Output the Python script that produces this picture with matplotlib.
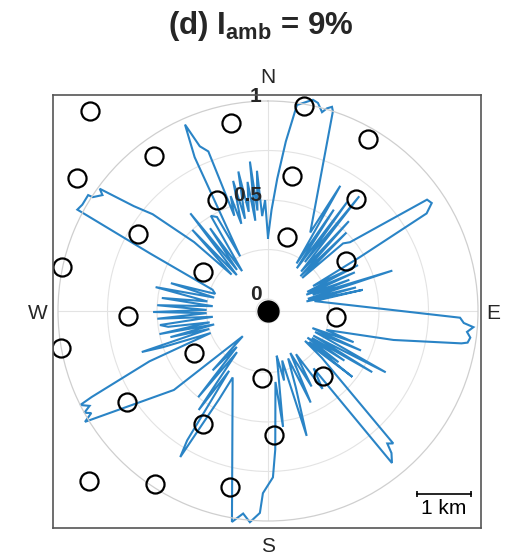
import numpy as np
import matplotlib
matplotlib.use("Agg")
import matplotlib.pyplot as plt

plt.rcParams['font.family'] = ['Liberation Sans', 'DejaVu Sans']
plt.rcParams['mathtext.fontset'] = 'custom'
plt.rcParams['mathtext.rm'] = 'Liberation Sans'
plt.rcParams['mathtext.bf'] = 'Liberation Sans:bold'

# normalised wake intensity vs wind bearing (deg, clockwise from north)
bearing_deg = [
    0, 2, 4, 6, 8, 12, 13.5, 15.2, 16.2, 17.4, 18, 28.3,
    30, 31, 33, 34, 36, 37, 38.5, 40, 42, 43, 45, 46, 48,
    50, 55, 56.6, 58.4, 59.6,
    61, 63, 64, 66, 67, 69, 70, 72, 73, 75, 76, 77.4, 78,
    92, 93.5, 94.5, 96, 97.5, 99, 99.5, 103, 108,
    110, 111, 113, 114, 117.5, 118.5, 120.4, 121.5, 123, 124, 126, 127, 128, 129,
    131, 136.6, 138, 139, 140.8, 141.5,
    145, 147, 150, 152, 155, 157, 160, 162.8, 164, 167, 169, 170, 172.6, 174,
    177, 178.3, 181.6, 182.3, 184.9, 187, 189.7, 208,
    209, 211, 212, 213, 215, 217, 219, 221, 223, 225,
    230, 238.8, 240, 241, 242, 243.4, 244, 247, 249,
    251, 252, 253, 255, 256, 258, 259, 261, 262.6, 264, 266, 268, 269.5,
    271, 273, 275, 277, 279, 282, 284, 286, 288, 291,
    296, 298, 299.8, 302.8, 303, 305, 306, 308, 310, 313, 315,
    317, 319, 321.5, 323, 325, 327, 329, 331.5, 333,
    334.5, 336, 337.5, 339.5, 340.5,
    342, 343, 345, 346, 348, 349, 351, 352, 353.1, 354, 355.5, 356.5, 358.5, 360,
]
intensity = [
    0.31, 0.45, 0.61, 0.80, 0.99, 1.03, 1.02, 0.98, 1.005, 1.02, 1.0, 0.39,
    0.67, 0.22, 0.55, 0.20, 0.62, 0.25, 0.68, 0.20, 0.55, 0.18, 0.50, 0.18, 0.45,
    0.48, 0.92, 0.93, 0.88, 0.48,
    0.20, 0.45, 0.16, 0.42, 0.15, 0.38, 0.18, 0.60, 0.15, 0.40, 0.14, 0.43, 0.18,
    0.91, 0.93, 0.98, 0.95, 0.97, 0.96, 0.93, 0.59, 0.25,
    0.40, 0.18, 0.45, 0.20, 0.61, 0.20, 0.55, 0.20, 0.40, 0.18, 0.38, 0.20, 0.48, 0.18,
    0.30, 0.86, 0.84, 0.89, 0.93, 0.31,
    0.42, 0.20, 0.38, 0.18, 0.45, 0.20, 0.35, 0.60, 0.20, 0.30, 0.17, 0.22, 0.53, 0.30,
    0.64, 0.78, 0.86, 0.96, 1.01, 0.97, 1.02, 0.32,
    0.45, 0.80, 0.71, 0.30, 0.55, 0.20, 0.50, 0.18, 0.35, 0.12,
    0.56, 1.02, 0.97, 1.0, 0.96, 1.0, 0.93, 0.59, 0.25,
    0.50, 0.61, 0.25, 0.45, 0.22, 0.50, 0.24, 0.45, 0.49, 0.22, 0.50, 0.25, 0.52,
    0.25, 0.50, 0.22, 0.48, 0.25, 0.52, 0.22, 0.45, 0.22, 0.24,
    0.60, 1.03, 1.02, 1.02, 0.995, 0.96, 0.99, 0.80, 0.70, 0.45, 0.20,
    0.50, 0.18, 0.57, 0.20, 0.45, 0.18, 0.50, 0.48, 0.25,
    0.80, 0.97, 0.84, 0.80, 0.45,
    0.55, 0.40, 0.62, 0.42, 0.66, 0.45, 0.60, 0.40, 0.70, 0.45, 0.65, 0.42, 0.50, 0.31,
]

# turbine layout (km, relative to the central turbine)
turbine_x = [-3.30, -0.69, 0.67, 1.85, -2.11, -3.54, 0.44, -0.94, 1.63,
             -2.41, 0.35, -3.81, -1.20, 1.44, -2.59, 1.26, -3.83, -1.37,
             -0.11, 1.02, -2.61, -1.20, 0.11, -3.31, -2.09, -0.70]
turbine_y = [3.70, 3.48, 3.80, 3.19, 2.87, 2.46, 2.50, 2.06, 2.07,
             1.43, 1.37, 0.81, 0.72, 0.93, -0.09, -0.11, -0.69, -0.78,
             -1.24, -1.20, -1.69, -2.09, -2.30, -3.15, -3.20, -3.26]

r_ticks = [0, 0.5, 1]
r_grid = [0, 0.25, 0.5, 0.75]

W, H = 505, 558
fig = plt.figure(figsize=(W / 100, H / 100), dpi=100)

# polar overlay: r = 0 sits on a small ring around the centre
cx, cy, rad = 268, 311, 210
pax = fig.add_axes([(cx - rad) / W, (H - cy - rad) / H, 2 * rad / W, 2 * rad / H],
                   projection='polar', zorder=1)
pax.set_theta_zero_location('N')
pax.set_theta_direction(-1)
pax.set_rlim(-0.06, 1)
pax.set_facecolor('none')
pax.set_thetagrids([0, 90, 180, 270], labels=[])
pax.set_rgrids(r_grid, labels=[])
pax.grid(True, color='#e3e3e3', lw=0.8)
pax.spines['polar'].set_color('#cfcfcf')
pax.spines['polar'].set_linewidth(0.9)
pax.tick_params(length=0)

theta = np.deg2rad(bearing_deg)
line, = pax.plot(theta, intensity, color='#2a84c6', lw=1.5, solid_joinstyle='miter')
line.set_clip_on(False)

for rv in r_ticks:
    pax.annotate(f'{rv:g}', xy=(0, rv), xytext=(-4.5, 3), textcoords='offset points',
                 ha='right', va='center', fontsize=15, fontweight='bold', color='#262626')

# map axes in km, drawn on top of the polar plot
mx0, mx1, my0, my1 = 53, 481, 95, 528
ax = fig.add_axes([mx0 / W, (H - my1) / H, (mx1 - mx0) / W, (my1 - my0) / H], zorder=2)
ax.set_facecolor('none')
ax.set_xlim((mx0 - cx) / 54, (mx1 - cx) / 54)
ax.set_ylim((cy - my1) / 54, (cy - my0) / 54)
ax.set_xticks([])
ax.set_yticks([])
for s in ax.spines.values():
    s.set_color('#555555')
    s.set_linewidth(1.2)

ax.plot(turbine_x, turbine_y, 'o', ms=13, mfc='none', mec='black', mew=1.6)
ax.plot([0], [0], 'o', ms=15, color='black')

# scale bar
ax.plot([2.76, 3.76], [-3.39, -3.39], color='black', lw=1.2, marker='|', ms=5, mew=1.2)
ax.text(3.26, -3.66, '1 km', ha='center', va='center', fontsize=15, color='black')

for lbl, x, y in [('N', 0, 4.33), ('E', 4.17, -0.04), ('S', 0, -4.37), ('W', -4.26, -0.04)]:
    ax.text(x, y, lbl, ha='center', va='center', fontsize=15, color='#262626', clip_on=False)

fig.text(0.516, 1 - 26 / H, r'(d) $\mathbf{I_{amb}}$ = 9%', ha='center', va='center',
         fontsize=22.5, fontweight='bold', color='#262626')

fig.savefig('out.png', dpi=100)
